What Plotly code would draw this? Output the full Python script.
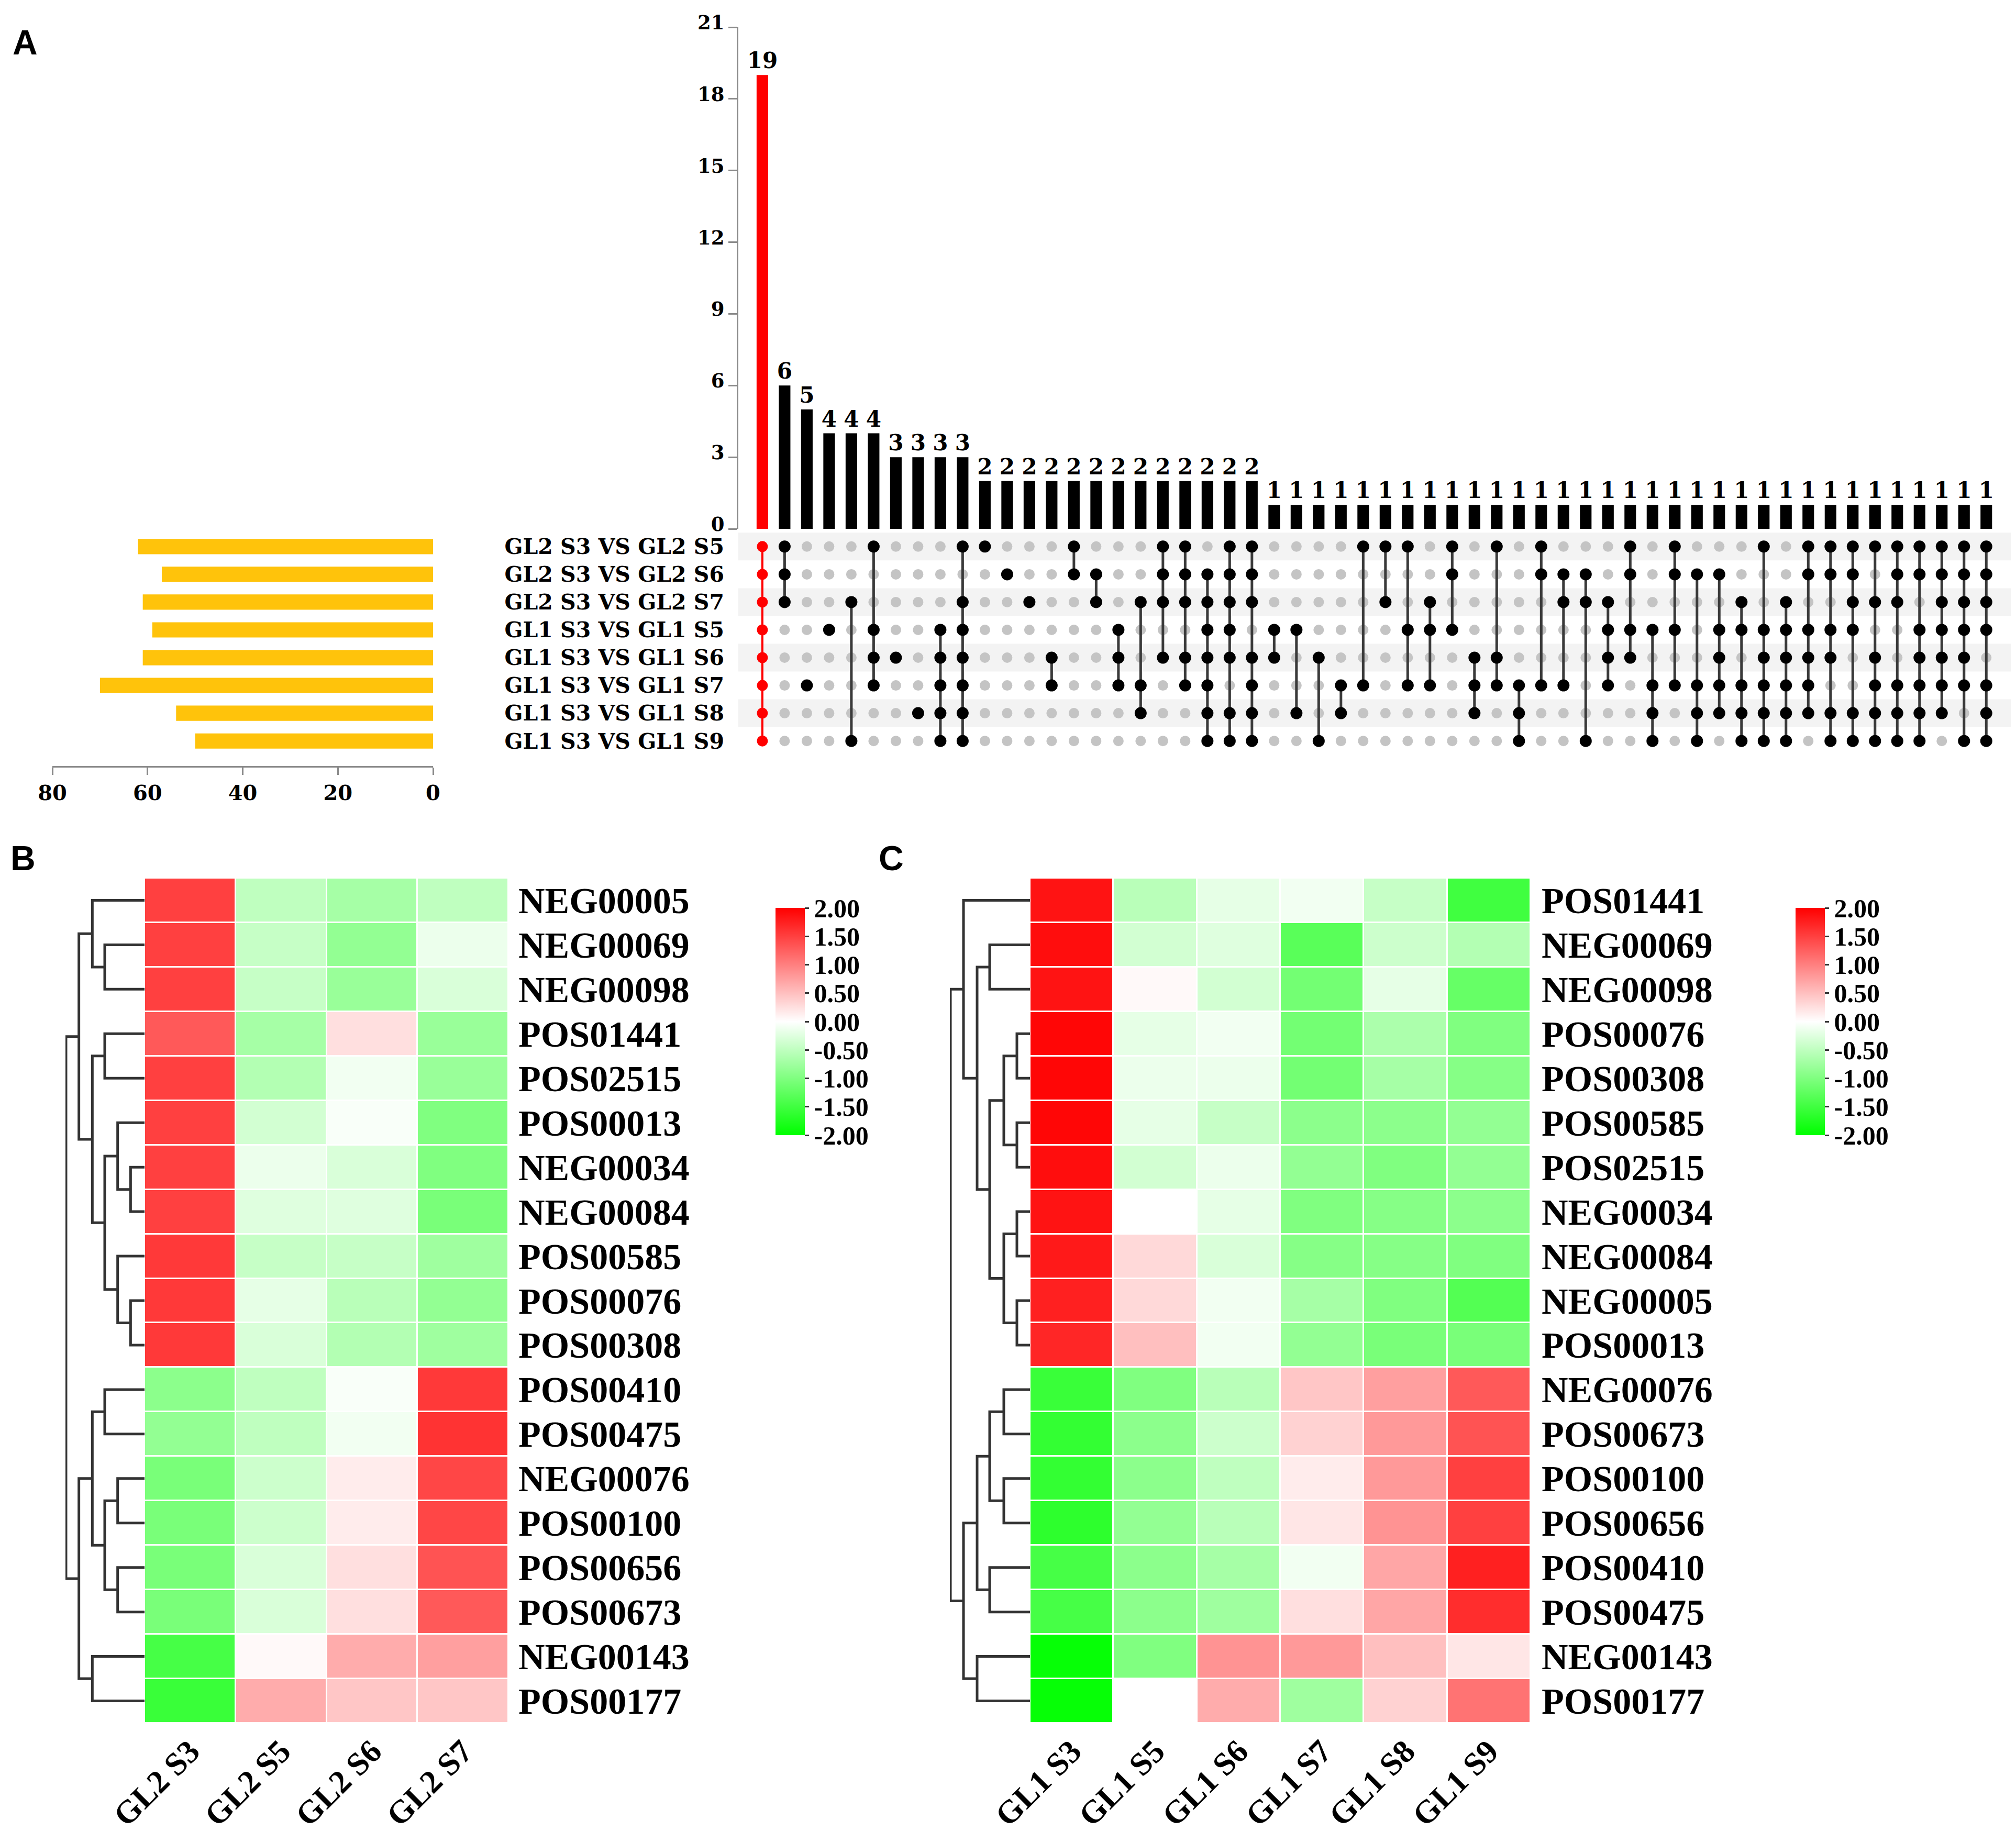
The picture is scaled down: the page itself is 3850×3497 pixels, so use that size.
import plotly.graph_objects as go

W, H = 3850, 3497

# ---- Panel A: upset plot data ----
set_names = ["GL2 S3 VS GL2 S5", "GL2 S3 VS GL2 S6", "GL2 S3 VS GL2 S7",
             "GL1 S3 VS GL1 S5", "GL1 S3 VS GL1 S6", "GL1 S3 VS GL1 S7",
             "GL1 S3 VS GL1 S8", "GL1 S3 VS GL1 S9"]
set_sizes = [62, 57, 61, 59, 61, 70, 54, 50]

inter_counts = [19, 6, 5, 4, 4, 4, 3, 3, 3, 3,
                2, 2, 2, 2, 2, 2, 2, 2, 2, 2, 2, 2, 2,
                1, 1, 1, 1, 1, 1, 1, 1, 1, 1, 1, 1, 1, 1, 1, 1, 1,
                1, 1, 1, 1, 1, 1, 1, 1, 1, 1, 1, 1, 1, 1, 1, 1]

# which sets (row index) take part in each intersection column
inter_members = [
    [0, 1, 2, 3, 4, 5, 6, 7], [0, 1, 2], [5], [3], [2, 7], [0, 3, 4, 5],
    [4], [6], [3, 4, 5, 6, 7], [0, 2, 3, 4, 5, 6, 7],
    [0], [1], [2], [4, 5], [0, 1], [1, 2], [3, 4, 5], [2, 5, 6],
    [0, 1, 2, 4], [0, 1, 2, 4, 5], [1, 2, 3, 4, 5, 6, 7],
    [0, 1, 2, 3, 4, 6, 7], [0, 1, 2, 4, 5, 6, 7],
    [3, 4], [3, 6], [4, 7], [5, 6], [0, 5], [0, 2], [0, 3, 5], [2, 3, 5],
    [0, 1, 3], [4, 5, 6], [0, 4, 5], [5, 6, 7], [0, 1, 5], [1, 2, 5],
    [1, 2, 7], [2, 3, 4, 5], [0, 1, 3, 4], [3, 5, 6, 7], [0, 1, 3, 5],
    [1, 5, 6, 7], [1, 3, 4, 5, 6], [2, 3, 5, 6, 7], [0, 3, 4, 5, 6, 7],
    [2, 3, 4, 5, 6, 7], [0, 1, 3, 4, 5, 6], [0, 1, 3, 4, 6, 7],
    [0, 1, 2, 3, 6, 7], [0, 2, 4, 5, 6, 7], [0, 1, 2, 5, 6, 7],
    [0, 1, 3, 4, 5, 6, 7], [0, 1, 2, 3, 4, 5, 6], [0, 1, 2, 3, 4, 5, 7],
    [0, 1, 2, 3, 5, 6, 7],
]
bar_ticks = [0, 3, 6, 9, 12, 15, 18, 21]
size_ticks = [0, 20, 40, 60, 80]

# ---- Panel B heatmap ----
b_cols = ["GL2 S3", "GL2 S5", "GL2 S6", "GL2 S7"]
b_rows = ["NEG00005", "NEG00069", "NEG00098", "POS01441", "POS02515", "POS00013",
          "NEG00034", "NEG00084", "POS00585", "POS00076", "POS00308", "POS00410",
          "POS00475", "NEG00076", "POS00100", "POS00656", "POS00673", "NEG00143",
          "POS00177"]
b_values = [
    [1.50, -0.50, -0.70, -0.50],
    [1.50, -0.45, -0.85, -0.15],
    [1.50, -0.45, -0.80, -0.30],
    [1.30, -0.70, 0.25, -0.80],
    [1.50, -0.60, -0.10, -0.80],
    [1.50, -0.35, -0.05, -1.00],
    [1.50, -0.15, -0.30, -1.00],
    [1.50, -0.25, -0.25, -1.05],
    [1.55, -0.45, -0.45, -0.75],
    [1.55, -0.20, -0.55, -0.85],
    [1.55, -0.30, -0.60, -0.75],
    [-0.90, -0.50, -0.05, 1.55],
    [-0.85, -0.50, -0.10, 1.60],
    [-1.05, -0.40, 0.15, 1.45],
    [-1.05, -0.40, 0.15, 1.45],
    [-1.05, -0.30, 0.25, 1.35],
    [-1.05, -0.30, 0.25, 1.30],
    [-1.45, 0.05, 0.65, 0.75],
    [-1.55, 0.65, 0.45, 0.45],
]
# dendrogram merges: (left, right, height); new clusters numbered from 19
b_links = [(1, 2, 77), (0, 19, 101), (3, 4, 77), (6, 7, 27), (5, 22, 52),
           (9, 10, 27), (8, 24, 52), (23, 25, 77), (21, 26, 101), (20, 27, 127),
           (11, 12, 77), (13, 14, 52), (15, 16, 52), (30, 31, 77), (29, 32, 101),
           (17, 18, 101), (33, 34, 127), (28, 35, 152)]

# ---- Panel C heatmap ----
c_cols = ["GL1 S3", "GL1 S5", "GL1 S6", "GL1 S7", "GL1 S8", "GL1 S9"]
c_rows = ["POS01441", "NEG00069", "NEG00098", "POS00076", "POS00308", "POS00585",
          "POS02515", "NEG00034", "NEG00084", "NEG00005", "POS00013", "NEG00076",
          "POS00673", "POS00100", "POS00656", "POS00410", "POS00475", "NEG00143",
          "POS00177"]
c_values = [
    [1.85, -0.55, -0.20, -0.10, -0.45, -1.50],
    [1.90, -0.35, -0.25, -1.30, -0.40, -0.60],
    [1.85, 0.05, -0.35, -1.10, -0.20, -1.20],
    [1.95, -0.20, -0.10, -1.10, -0.65, -1.00],
    [1.95, -0.15, -0.15, -1.10, -0.70, -0.95],
    [1.95, -0.20, -0.45, -0.90, -0.90, -0.85],
    [1.90, -0.35, -0.15, -0.85, -1.00, -0.85],
    [1.85, 0.00, -0.20, -1.00, -0.95, -0.90],
    [1.80, 0.30, -0.30, -0.95, -0.95, -1.00],
    [1.75, 0.30, -0.10, -0.70, -1.00, -1.35],
    [1.70, 0.50, -0.10, -0.85, -1.05, -1.05],
    [-1.55, -1.00, -0.55, 0.45, 0.75, 1.30],
    [-1.60, -0.90, -0.40, 0.35, 0.80, 1.35],
    [-1.60, -0.90, -0.50, 0.15, 0.80, 1.50],
    [-1.65, -0.85, -0.55, 0.20, 0.85, 1.50],
    [-1.45, -0.90, -0.70, -0.10, 0.70, 1.75],
    [-1.45, -0.90, -0.75, 0.25, 0.70, 1.65],
    [-1.95, -1.00, 0.85, 0.80, 0.50, 0.20],
    [-1.95, 0.00, 0.65, -0.75, 0.35, 1.10],
]
c_links = [(1, 2, 77), (3, 4, 25), (5, 6, 25), (20, 21, 50), (7, 8, 25),
           (9, 10, 25), (23, 24, 50), (22, 25, 77), (19, 26, 101), (0, 27, 127),
           (11, 12, 50), (13, 14, 50), (29, 30, 77), (15, 16, 77), (31, 32, 101),
           (17, 18, 101), (33, 34, 127), (28, 35, 152)]

cbar_ticks = [-2.0, -1.5, -1.0, -0.5, 0.0, 0.5, 1.0, 1.5, 2.0]

# ---------------------------------------------------------------
SERIF_A = "DejaVu Serif"
SERIF = "Liberation Serif"


def fnt(family, size):
    return dict(family=family, size=size, color="black", weight="bold")


def px_x(a, b):
    return [a / W, b / W]


def px_y(top, bottom):
    return [1 - bottom / H, 1 - top / H]


def dendro(links, n):
    pos = {i: float(i) for i in range(n)}
    hgt = {i: 0.0 for i in range(n)}
    xs, ys = [], []
    for k, (a, b, h) in enumerate(links):
        xs += [hgt[a], h, h, hgt[b], None]
        ys += [pos[a], pos[a], pos[b], pos[b], None]
        pos[n + k] = (pos[a] + pos[b]) / 2
        hgt[n + k] = h
    return xs, ys


fig = go.Figure()

# intersection bars
cols = list(range(len(inter_counts)))
bar_colors = ["#ff0000"] + ["#000000"] * (len(cols) - 1)
fig.add_trace(go.Bar(x=cols, y=inter_counts, marker=dict(color=bar_colors, line_width=0),
                     text=inter_counts, textposition="outside", constraintext="none",
                     textfont=fnt(SERIF_A, 42),
                     cliponaxis=False, xaxis="x", yaxis="y", showlegend=False))

# matrix
gx, gy, bx, by, lx, ly = [], [], [], [], [], []
for c, mem in enumerate(inter_members):
    if c == 0:
        continue
    for r in range(len(set_names)):
        if r in mem:
            bx.append(c)
            by.append(r)
        else:
            gx.append(c)
            gy.append(r)
    if len(mem) > 1:
        lx += [c, c, None]
        ly += [min(mem), max(mem), None]

fig.add_trace(go.Scatter(x=gx, y=gy, mode="markers", marker=dict(size=20, color="#c4c4c4"),
                         xaxis="x2", yaxis="y2", showlegend=False))
fig.add_trace(go.Scatter(x=lx, y=ly, mode="lines", line=dict(color="#3a3a3a", width=5),
                         xaxis="x2", yaxis="y2", showlegend=False))
fig.add_trace(go.Scatter(x=bx, y=by, mode="markers", marker=dict(size=23, color="black"),
                         xaxis="x2", yaxis="y2", showlegend=False))
red_rows = inter_members[0]
fig.add_trace(go.Scatter(x=[0] * len(red_rows), y=red_rows, mode="lines+markers",
                         line=dict(color="#ff0000", width=4),
                         marker=dict(size=21, color="#ff0000"),
                         xaxis="x2", yaxis="y2", showlegend=False))

# set size bars
fig.add_trace(go.Bar(x=set_sizes, y=list(range(len(set_names))), orientation="h",
                     marker=dict(color="#ffc30b", line_width=0), width=0.55,
                     xaxis="x3", yaxis="y3", showlegend=False))

# heatmaps
cscale = [[0, "#00ff00"], [0.5, "#ffffff"], [1, "#ff0000"]]
cbar_text = ["%.2f" % v for v in cbar_ticks]


def cbar(xpos):
    return dict(x=xpos, xanchor="left", y=1 - 1943 / H, yanchor="middle",
                lenmode="pixels", len=434, thicknessmode="pixels", thickness=56,
                outlinewidth=0, tickvals=cbar_ticks, ticktext=cbar_text,
                ticks="outside", ticklen=8, tickwidth=3, tickcolor="#333",
                tickfont=fnt(SERIF, 50), ypad=0, xpad=0)


fig.add_trace(go.Heatmap(z=b_values, x=b_cols, y=list(range(len(b_rows))),
                         zmin=-2, zmax=2, colorscale=cscale, xgap=3, ygap=3,
                         colorbar=cbar(1473 / W), xaxis="x4", yaxis="y4"))
fig.add_trace(go.Heatmap(z=c_values, x=c_cols, y=list(range(len(c_rows))),
                         zmin=-2, zmax=2, colorscale=cscale, xgap=3, ygap=3,
                         colorbar=cbar(3421 / W), xaxis="x6", yaxis="y6"))

# dendrograms
dxb, dyb = dendro(b_links, len(b_rows))
fig.add_trace(go.Scatter(x=dxb, y=dyb, mode="lines", line=dict(color="#333333", width=5),
                         xaxis="x5", yaxis="y5", showlegend=False))
dxc, dyc = dendro(c_links, len(c_rows))
fig.add_trace(go.Scatter(x=dxc, y=dyc, mode="lines", line=dict(color="#333333", width=5),
                         xaxis="x7", yaxis="y7", showlegend=False))

hidden = dict(visible=False, showgrid=False, zeroline=False)
row_range = [18.5, -0.5]

fig.update_layout(
    width=W, height=H, margin=dict(l=0, r=0, t=0, b=0, autoexpand=False),
    paper_bgcolor="white", plot_bgcolor="white", bargap=0.48,
    xaxis=dict(domain=px_x(1402, 3832), range=[-1.08, 56.1], anchor="y", **hidden),
    yaxis=dict(domain=px_y(44, 1002), range=[0, 21], anchor="x", tickvals=bar_ticks,
               showline=True, linecolor="#8a8a8a", linewidth=3, ticks="outside",
               ticklen=16, tickwidth=3, tickcolor="#8a8a8a", showgrid=False, zeroline=False,
               ticklabelshift=-9, ticklabeloverflow="allow", tickfont=fnt(SERIF_A, 37)),
    xaxis2=dict(domain=px_x(1402, 3832), range=[-1.08, 56.1], anchor="y2", **hidden),
    yaxis2=dict(domain=px_y(1004, 1439), range=[7.6, -0.6], anchor="x2",
                tickvals=list(range(len(set_names))), ticktext=set_names,
                showgrid=False, zeroline=False, showline=False, ticklabelstandoff=26,
                tickfont=fnt(SERIF_A, 41)),
    xaxis3=dict(domain=px_x(92, 819), range=[80, 0], anchor="y3", tickvals=size_ticks,
                showline=True, linecolor="#8a8a8a", linewidth=3, ticks="outside",
                ticklen=14, tickwidth=3, tickcolor="#8a8a8a", showgrid=False, zeroline=False,
                tickfont=fnt(SERIF_A, 40)),
    yaxis3=dict(domain=px_y(1004, 1455), range=[7.9, -0.6], anchor="x3", **hidden),
    xaxis4=dict(domain=px_x(268, 963), anchor="y4", tickangle=-45, showgrid=False,
                zeroline=False, ticklabelstandoff=4, tickfont=fnt(SERIF, 62)),
    yaxis4=dict(domain=px_y(1669, 3283), range=row_range, anchor="x4", side="right",
                tickvals=list(range(len(b_rows))), ticktext=b_rows, showgrid=False,
                zeroline=False, ticklabelstandoff=18, tickfont=fnt(SERIF, 70)),
    xaxis5=dict(domain=px_x(117, 268), range=[153, 0], anchor="y5", **hidden),
    yaxis5=dict(domain=px_y(1669, 3283), range=row_range, anchor="x5", **hidden),
    xaxis6=dict(domain=px_x(1959, 2915), anchor="y6", tickangle=-45, showgrid=False,
                zeroline=False, ticklabelstandoff=4, tickfont=fnt(SERIF, 62)),
    yaxis6=dict(domain=px_y(1669, 3283), range=row_range, anchor="x6", side="right",
                tickvals=list(range(len(c_rows))), ticktext=c_rows, showgrid=False,
                zeroline=False, ticklabelstandoff=20, tickfont=fnt(SERIF, 70)),
    xaxis7=dict(domain=px_x(1806, 1959), range=[153, 0], anchor="y7", **hidden),
    yaxis7=dict(domain=px_y(1669, 3283), range=row_range, anchor="x7", **hidden),
)

# light bands behind alternate matrix rows
for r in range(0, len(set_names), 2):
    fig.add_shape(type="rect", xref="x2 domain", yref="y2", x0=0, x1=1,
                  y0=r - 0.5, y1=r + 0.5, fillcolor="#f3f3f3", line_width=0, layer="below")

for letter, ax_, ay_ in [("A", 14, 34), ("B", 10, 1592), ("C", 1668, 1592)]:
    fig.add_annotation(text=letter, xref="paper", yref="paper", x=ax_ / W, y=1 - ay_ / H,
                       xanchor="left", yanchor="top", showarrow=False,
                       font=fnt("Liberation Sans", 66))

fig.write_html("out.html")
